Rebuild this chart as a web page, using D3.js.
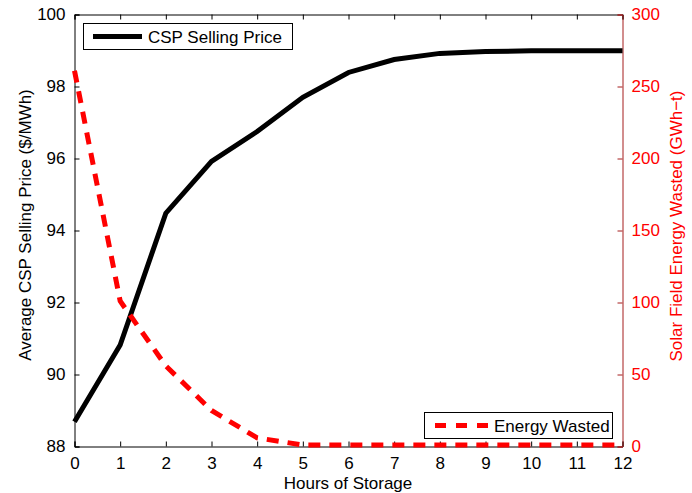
<!DOCTYPE html>
<html>
<head>
<meta charset="utf-8">
<script src="https://cdn.jsdelivr.net/npm/d3@7"></script>
<style>
  body { margin: 0; background: #fff; }
  text { font-family: "Liberation Sans", Arial, sans-serif; }
</style>
</head>
<body>
<svg id="chart" width="692" height="493"></svg>
<script>
var hours = [0, 1, 2, 3, 4, 5, 6, 7, 8, 9, 10, 11, 12];
var sellingPrice = [88.69, 90.82, 94.48, 95.92, 96.75, 97.70, 98.39, 98.75, 98.92, 98.97, 98.99, 98.99, 98.99];
var energyWasted = [261, 101, 56, 25, 6, 1, 1, 1, 1, 1, 1, 1, 1];
var xTicks = [0, 1, 2, 3, 4, 5, 6, 7, 8, 9, 10, 11, 12];
var leftTicks = [88, 90, 92, 94, 96, 98, 100];
var rightTicks = [0, 50, 100, 150, 200, 250, 300];

var svg = d3.select("#chart"),
    pLeft = 74.5, pRight = 622.5, pTop = 14.5, pBottom = 446.5,
    fs = "17px";

var x = d3.scaleLinear().domain([0, 12]).range([pLeft, pRight]);
var yL = d3.scaleLinear().domain([88, 100]).range([pBottom, pTop]);
var yR = d3.scaleLinear().domain([0, 300]).range([pBottom, pTop]);

var darkRed = "#a51c1c", red = "#ff0000";

function styleAxis(g, lineColor, textColor) {
  g.selectAll("path,line").attr("stroke", lineColor);
  g.selectAll("text").attr("font-size", fs).attr("fill", textColor)
    .attr("font-family", "Liberation Sans, Arial, sans-serif");
}

// top border with ticks
svg.append("g")
  .attr("transform", "translate(0," + pTop + ")")
  .call(d3.axisTop(x).tickValues(xTicks).tickSize(-5).tickFormat(""))
  .call(styleAxis, "#000", "#000");

// bottom axis
svg.append("g")
  .attr("transform", "translate(0," + pBottom + ")")
  .call(d3.axisBottom(x).tickValues(xTicks).tickSize(-5).tickPadding(10))
  .call(styleAxis, "#000", "#000");

// left axis
svg.append("g")
  .attr("transform", "translate(" + pLeft + ",0)")
  .call(d3.axisLeft(yL).tickValues(leftTicks).tickSize(-5).tickPadding(9))
  .call(styleAxis, "#000", "#000");

// right axis
svg.append("g")
  .attr("transform", "translate(" + pRight + ",0)")
  .call(d3.axisRight(yR).tickValues(rightTicks).tickSize(-5).tickPadding(9))
  .call(styleAxis, darkRed, red);

// lines
var priceLine = d3.line().x(function(d, i) { return x(hours[i]); }).y(function(d) { return yL(d); });
var wasteLine = d3.line().x(function(d, i) { return x(hours[i]); }).y(function(d) { return yR(d); });

svg.append("path")
  .datum(sellingPrice)
  .attr("d", priceLine)
  .attr("fill", "none")
  .attr("stroke", "#000")
  .attr("stroke-width", 5);

svg.append("path")
  .datum(energyWasted)
  .attr("d", wasteLine)
  .attr("fill", "none")
  .attr("stroke", red)
  .attr("stroke-width", 5)
  .attr("stroke-dasharray", "12,9");

// axis titles
svg.append("text")
  .attr("x", 348).attr("y", 489)
  .attr("text-anchor", "middle")
  .attr("font-size", fs)
  .text("Hours of Storage");

svg.append("text")
  .attr("transform", "translate(31,225) rotate(-90)")
  .attr("text-anchor", "middle")
  .attr("font-size", fs)
  .text("Average CSP Selling Price ($/MWh)");

svg.append("text")
  .attr("transform", "translate(682,226) rotate(-90)")
  .attr("text-anchor", "middle")
  .attr("font-size", fs)
  .attr("fill", red)
  .text("Solar Field Energy Wasted (GWh\u2212t)");

// legends
var leg1 = svg.append("g");
leg1.append("rect").attr("x", 83.5).attr("y", 23.5).attr("width", 209).attr("height", 26)
  .attr("fill", "#fff").attr("stroke", "#000");
leg1.append("line").attr("x1", 93).attr("x2", 142).attr("y1", 36.5).attr("y2", 36.5)
  .attr("stroke", "#000").attr("stroke-width", 5);
leg1.append("text").attr("x", 148).attr("y", 42.5).attr("font-size", fs).text("CSP Selling Price");

var leg2 = svg.append("g");
leg2.append("rect").attr("x", 424.5).attr("y", 412.5).attr("width", 188).attr("height", 26)
  .attr("fill", "#fff").attr("stroke", "#000");
leg2.append("line").attr("x1", 435).attr("x2", 488).attr("y1", 425.5).attr("y2", 425.5)
  .attr("stroke", red).attr("stroke-width", 5).attr("stroke-dasharray", "11,10");
leg2.append("text").attr("x", 494).attr("y", 431.5).attr("font-size", fs).text("Energy Wasted");
</script>
</body>
</html>
